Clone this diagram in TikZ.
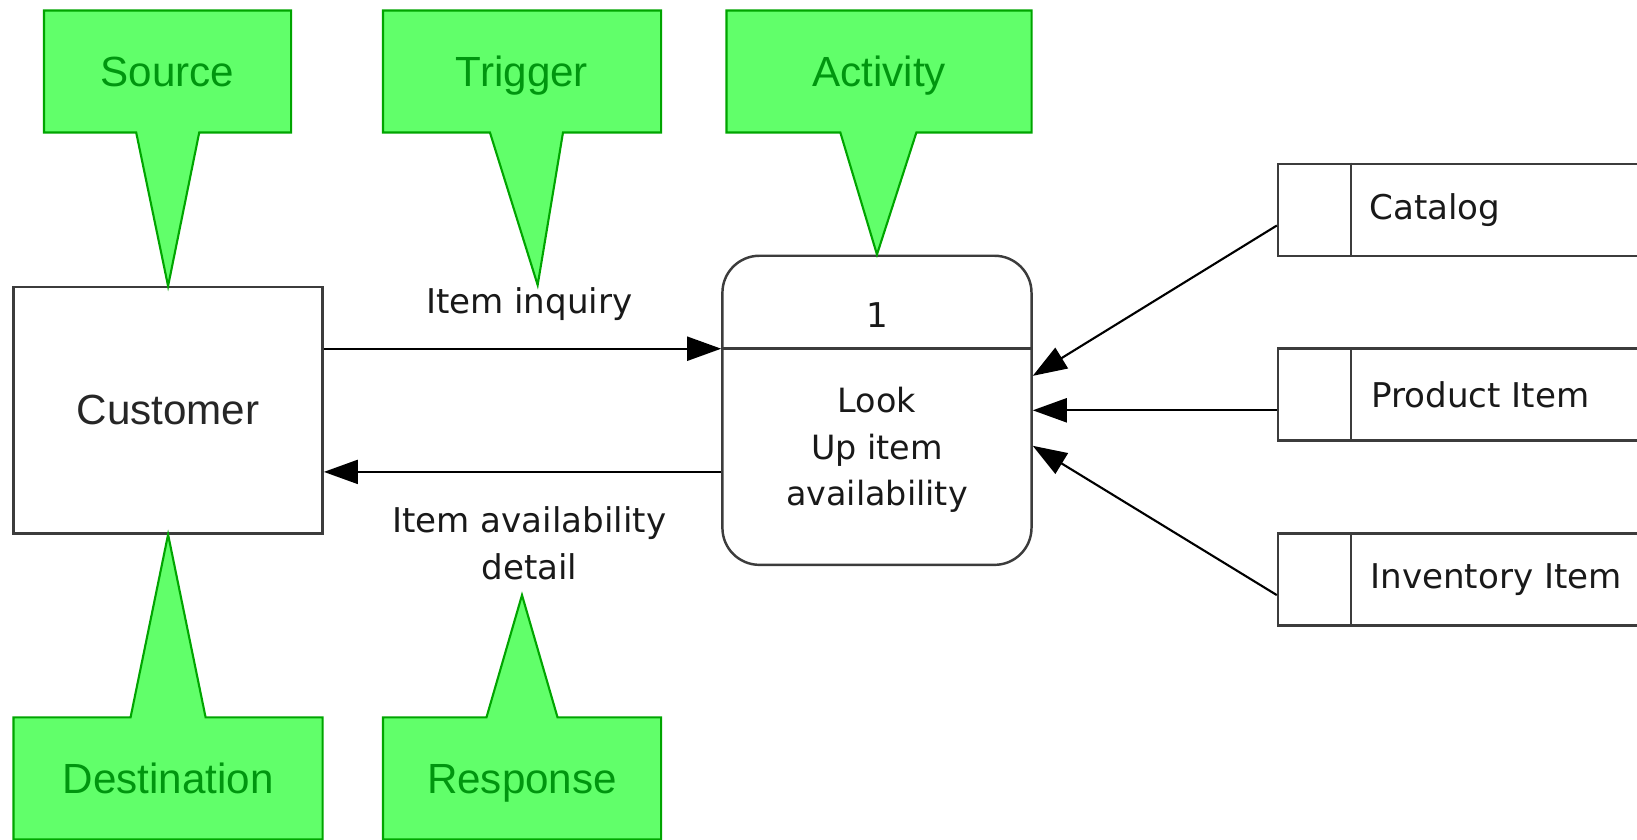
\documentclass[tikz,border=0pt]{standalone}
\usepackage{fontspec}
\setmainfont{DejaVu Sans}
\newfontfamily\arialfont{Liberation Sans}
\usetikzlibrary{arrows.meta,shapes.callouts,calc}

\definecolor{notefill}{RGB}{97,255,106}
\definecolor{noteline}{RGB}{0,165,0}
\definecolor{notetext}{RGB}{0,150,15}
\definecolor{boxline}{RGB}{60,60,60}

\tikzset{
  flow/.style={-{Triangle[length=0.34cm,width=0.24cm]}, line width=0.6pt, draw=black},
  entity/.style={rectangle, draw=boxline, line width=0.7pt, minimum width=3.09cm, minimum height=2.46cm, font=\arialfont\fontsize{12}{14}\selectfont, text=black!85},
  process/.style={rectangle, rounded corners=0.37cm, draw=boxline, line width=0.7pt, minimum width=3.09cm, minimum height=3.09cm},
  store/.style={rectangle, draw=boxline, line width=0.7pt, minimum width=4.2cm, minimum height=0.92cm},
  flowlabel/.style={font=\fontsize{9.7}{13.4}\selectfont, align=center, text=black!90},
  note/.style={rectangle callout, draw=noteline, fill=notefill, line width=0.6pt, minimum height=1.22cm, inner sep=0pt, text height=10pt, text depth=1.4pt, font=\arialfont\fontsize{12}{14}\selectfont, text=notetext},
}

\begin{document}
\begin{tikzpicture}[x=0.01044cm, y=-0.01044cm]
  \useasboundingbox (0,0) rectangle (1568,804);
  \clip (0,0) rectangle (1568,804);

  % external entity and process
  \node[entity] (cust) at (161,393) {Customer};
  \node[process] (proc) at (840,393) {};
  \coordinate (div) at (0,334);
  \coordinate (ret) at (0,452);
  \draw[boxline, line width=0.7pt] (proc.west |- div) -- (proc.east |- div);
  \node[flowlabel] (procid) at (840,302) {1};
  \node[flowlabel, font=\fontsize{9.5}{13.2}\selectfont] (proctext) at (840,431) {Look\\Up item\\availability};

  % data stores
  \node[store, anchor=west] (cat) at (1223,201) {};
  \node[store, anchor=west] (prod) at (1223,378) {};
  \node[store, anchor=west] (inv) at (1223,555) {};
  \foreach \s in {cat,prod,inv}
    \draw[boxline, line width=0.7pt] ($(\s.north west)+(71,0)$) -- ($(\s.south west)+(71,0)$);
  \node[flowlabel, anchor=west, inner sep=0pt] (catname) at ($(cat.west)+(88,0)$) {Catalog};
  \node[flowlabel, anchor=west, inner sep=0pt] (prodname) at ($(prod.west)+(90,0)$) {Product Item};
  \node[flowlabel, anchor=west, inner sep=0pt] (invname) at ($(inv.west)+(89,0)$) {Inventory Item};

  % flows
  \draw[flow] (cust.east |- div) -- (proc.west |- div);
  \draw[flow] (proc.west |- ret) -- (cust.east |- ret);
  \node[flowlabel] (inqlbl) at (507,291) {Item inquiry};
  \node[flowlabel] (avllbl) at (507,520) {Item availability\\detail};
  \draw[flow] ($(cat.west)+(0,15)$) -- ($(proc.east)+(0,-33)$);
  \draw[flow] ($(prod.west)+(0,15)$) -- (proc.east);
  \draw[flow] ($(inv.west)+(0,15)$) -- ($(proc.east)+(0,34)$);

  % notes
  \coordinate (trigtip) at (515,273);
  \coordinate (resptip) at (500,570);
  \node[note, minimum width=2.47cm, callout pointer width=0.63cm, callout absolute pointer={(cust.north)}] (source) at (160.5,68.5) {Source};
  \node[note, minimum width=2.78cm, callout pointer width=0.73cm, callout absolute pointer={(trigtip)}] (trigger) at (500,68.5) {Trigger};
  \node[note, minimum width=3.05cm, callout pointer width=0.76cm, callout absolute pointer={(proc.north)}] (activity) at (842,68.5) {Activity};
  \node[note, minimum width=3.09cm, callout pointer width=0.75cm, callout absolute pointer={(cust.south)}] (dest) at (161,745.5) {Destination};
  \node[note, minimum width=2.78cm, callout pointer width=0.71cm, callout absolute pointer={(resptip)}] (response) at (500,745.5) {Response};
\end{tikzpicture}
\end{document}
